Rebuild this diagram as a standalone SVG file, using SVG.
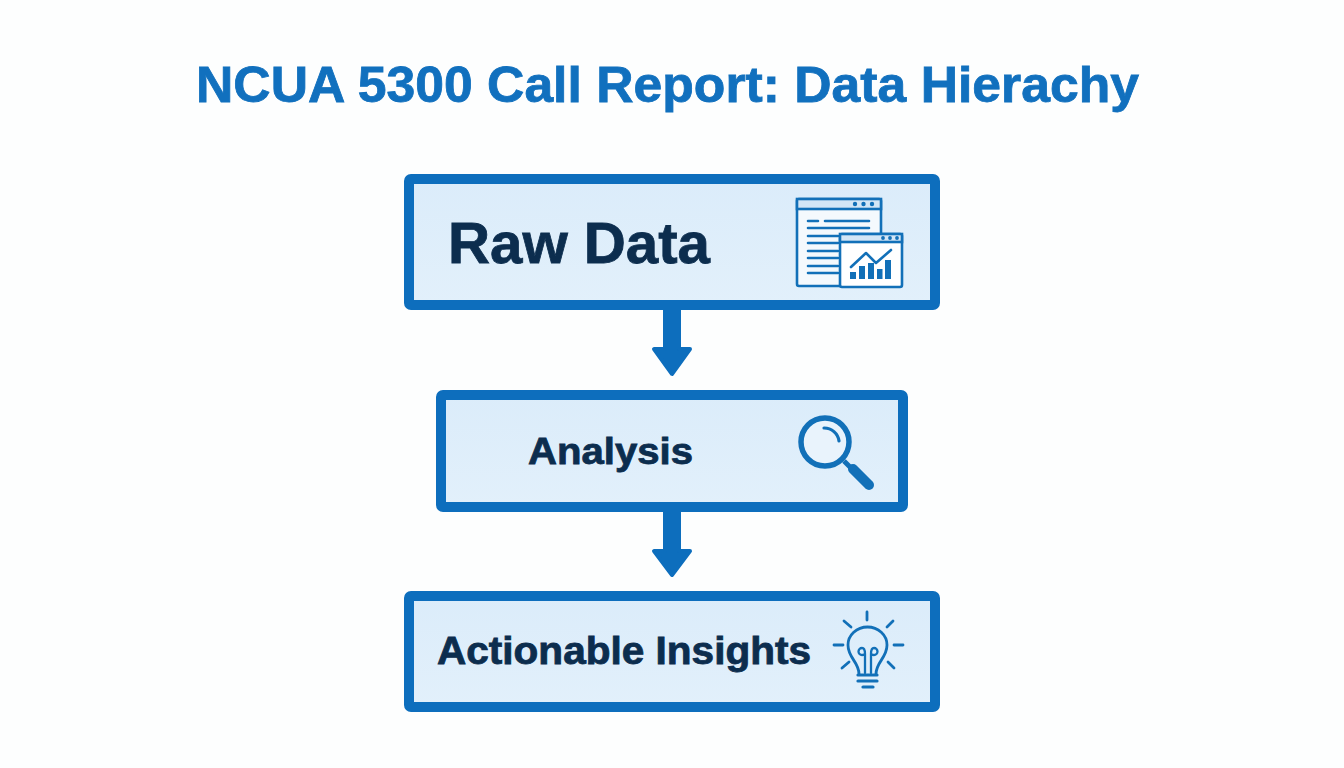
<svg xmlns="http://www.w3.org/2000/svg" width="1344" height="768" viewBox="0 0 1344 768">
<defs>
<linearGradient id="fill" x1="0" y1="0" x2="0" y2="1"><stop offset="0" stop-color="#dbecfa"/><stop offset="1" stop-color="#e2f0fb"/></linearGradient>
<style>
.t{font-family:"Liberation Sans",Arial,sans-serif;font-weight:700;paint-order:stroke}
.box{fill:url(#fill);stroke:#0d6ebd;stroke-width:10;stroke-linejoin:round}
.dark{fill:#0c2d4e;stroke:#0c2d4e;stroke-width:.8}
.arrow{fill:#0d6ebd;stroke:#0d6ebd;stroke-linejoin:round;stroke-width:4}
.ic{fill:none;stroke:#1270b8;stroke-width:2.600;stroke-linecap:round;stroke-linejoin:round}
.icf{fill:#1270b8}
</style>
</defs>
<rect width="1344" height="768" fill="#fdfefe"/>
<text id="title" class="t" x="196" y="102" font-size="50" fill="#1170be" stroke="#1170be" stroke-width=".8" textLength="943" lengthAdjust="spacingAndGlyphs">NCUA 5300 Call Report: Data Hierachy</text>
<g id="connectors">
<path class="arrow" d="M665 308H679V349H690L672 374L654 349H665Z"/>
<path class="arrow" d="M665 510H679V551H690L672 575L654 551H665Z"/>
</g>
<g id="raw-data">
<rect class="box" x="409" y="179" width="526" height="126" rx="2"/>
<text class="t dark" x="448" y="263" font-size="57" textLength="262" lengthAdjust="spacingAndGlyphs">Raw Data</text>
<g id="raw-data-icon">
<rect x="797" y="199" width="84" height="87" rx="2" fill="#f4f9fd" stroke="#1270b8" stroke-width="2.600"/>
<rect x="797" y="199" width="84" height="10" fill="#d3e6f6" stroke="#1270b8" stroke-width="2.600"/>
<circle class="icf" cx="855" cy="204" r="2.200"/><circle class="icf" cx="863.500" cy="204" r="2.200"/><circle class="icf" cx="872" cy="204" r="2.200"/>
<path class="ic" d="M808 221H818M825 221H869M808 228H869M808 236H838M808 243H838M808 251H838M808 258H838M808 266H838M808 273H838"/>
<rect x="840" y="234" width="62" height="53" rx="2" fill="#fff" stroke="#1270b8" stroke-width="2.600"/>
<rect x="840" y="234" width="62" height="8" fill="#d3e6f6" stroke="#1270b8" stroke-width="2.600"/>
<circle class="icf" cx="883" cy="238" r="1.900"/><circle class="icf" cx="890" cy="238" r="1.900"/><circle class="icf" cx="897" cy="238" r="1.900"/>
<path class="icf" d="M850 272h6v7h-6zM859 266h6v13h-6zM868 263h6v16h-6zM877 269h5.500v10h-5.500zM885 260h6v19h-6z"/>
<path class="ic" d="M851 267L866 253L876 263L891 250"/>
</g>
</g>
<g id="analysis">
<rect class="box" x="441" y="395" width="462" height="112" rx="2"/>
<text class="t dark" x="528" y="464" font-size="37" textLength="165" lengthAdjust="spacingAndGlyphs">Analysis</text>
<g id="analysis-icon">
<circle cx="825" cy="442" r="24" fill="#e9f3fc" stroke="#1270b8" stroke-width="5.500"/>
<path d="M824 428A15 15 0 0 1 839 441" fill="none" stroke="#1270b8" stroke-width="3.200" stroke-linecap="round"/>
<path d="M844 461L853 470" stroke="#1270b8" stroke-width="5"/>
<path d="M853 469L869 485" stroke="#1270b8" stroke-width="10" stroke-linecap="round"/>
</g>
</g>
<g id="actionable-insights">
<rect class="box" x="409" y="596" width="526" height="111" rx="2"/>
<text class="t dark" x="437" y="664" font-size="38" textLength="374" lengthAdjust="spacingAndGlyphs">Actionable Insights</text>
<g id="insights-icon" fill="none" stroke="#1270b8" stroke-linecap="round" stroke-linejoin="round" stroke-width="2.800">
<path d="M859 674C859 662 848 658 848 645A19.500 18 0 0 1 887 645C887 658 876 662 876 674"/>
<path d="M865 673V654C865 651 865 648 862 648a3.500 3.500 0 0 0 0 7c1 0 3 -.5 3 -1M871 673V654C871 651 871 648 874 648a3.500 3.500 0 0 1 0 7c-1 0 -3 -.5 -3 -1" stroke-width="2.300"/>
<path d="M858 675H877" stroke-width="3.200"/><path d="M858 681H877" stroke-width="3.200"/><path d="M863 687H873" stroke-width="3.200"/>
<path d="M867 612V620M844 621L851 627M893 621L887 627M834 645H843M894 645H903M842 668L849 662M894 668L888 662"/>
</g>
</g>
</svg>
